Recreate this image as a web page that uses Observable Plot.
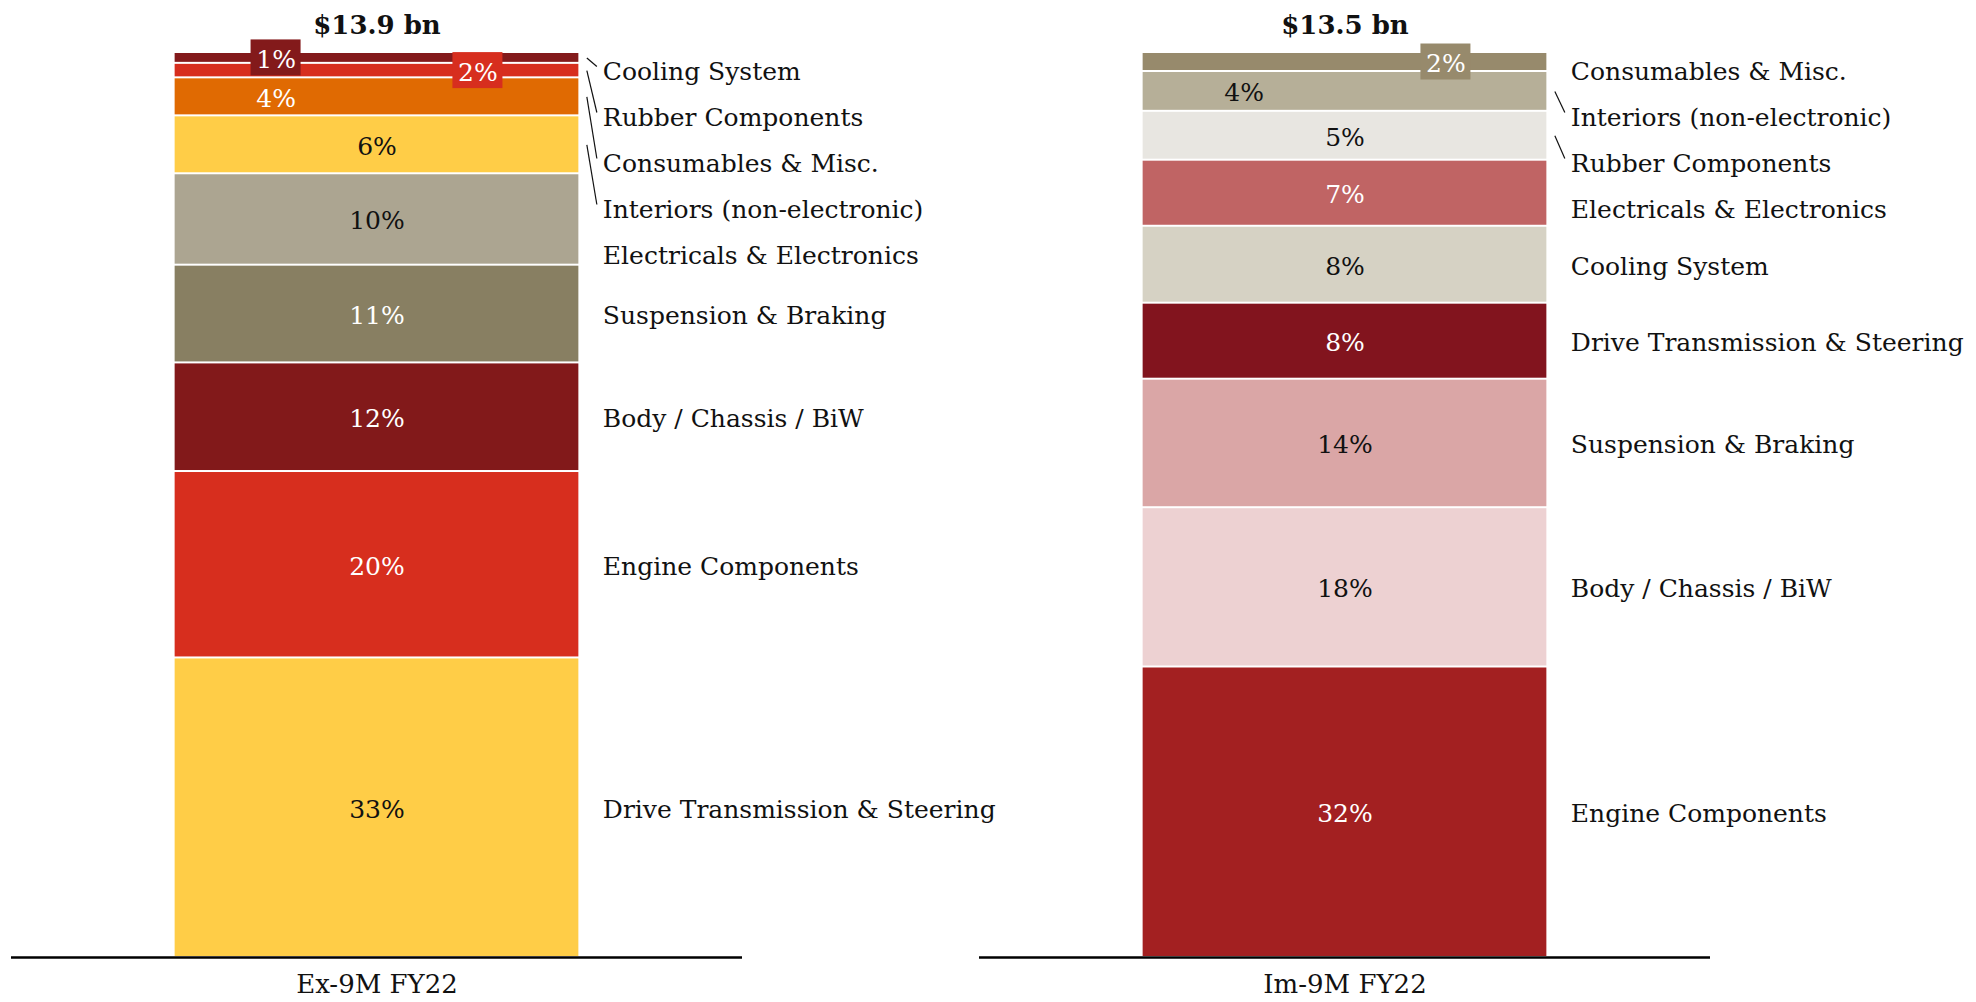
<!DOCTYPE html>
<html>
<head>
<meta charset="utf-8">
<script src="https://cdn.jsdelivr.net/npm/d3@7"></script>
<script src="https://cdn.jsdelivr.net/npm/@observablehq/plot@0.6"></script>
<style>
  html, body { margin: 0; padding: 0; background: #ffffff; }
  #chart svg { display: block; }
</style>
</head>
<body>
<div id="chart"></div>
<script>
// ---------- DATA (segments listed top to bottom) ----------
const panels = ["Ex-9M FY22", "Im-9M FY22"];
const totals = [13.9, 13.5]; // US$ bn

const exCategories = ["Cooling System", "Rubber Components", "Consumables & Misc.", "Interiors (non-electronic)",
  "Electricals & Electronics", "Suspension & Braking", "Body / Chassis / BiW", "Engine Components",
  "Drive Transmission & Steering"];
const exShares = [1.2, 1.6, 4.2, 6.4, 10.1, 10.8, 12.0, 20.6, 33.1];
const exLabels = ["1%", "2%", "4%", "6%", "10%", "11%", "12%", "20%", "33%"];

const imCategories = ["Consumables & Misc.", "Interiors (non-electronic)", "Rubber Components",
  "Electricals & Electronics", "Cooling System", "Drive Transmission & Steering", "Suspension & Braking",
  "Body / Chassis / BiW", "Engine Components"];
const imShares = [2.1, 4.4, 5.4, 7.3, 8.5, 8.4, 14.2, 17.6, 32.1];
const imLabels = ["2%", "4%", "5%", "7%", "8%", "8%", "14%", "18%", "32%"];

// ---------- STYLE ----------
const exColors = ["#831a1b", "#d72e1e", "#e06a02", "#ffcd47", "#aca591", "#887f62", "#82191a", "#d72e1e", "#ffcd47"];
const imColors = ["#978a6c", "#b6af98", "#e8e6e1", "#c06464", "#d6d2c4", "#82141e", "#daa6a6", "#edd1d2", "#a32021"];

const W = 1976, H = 1002;
const marginTop = 52, marginBottom = 45, marginLeft = 11, marginRight = 265;
const facetW = 731.5, barW = 404;           // px
const ext = (facetW - barW) / 2 / barW;     // x-domain padding (bar spans 0..1)
const FONT = "DejaVu Serif, Georgia, serif";
const yPx = d3.scaleLinear([0, 100], [H - marginBottom, marginTop]); // mirrors Plot's y scale

// ---------- BUILD ROWS ----------
function build(panel, cats, shares, labels, colors) {
  const n = cats.length;
  const rows = cats.map((c, i) => ({panel, category: c, value: shares[i], label: labels[i], color: colors[i]}));
  // stack bottom-up
  let cum = 0;
  for (let i = n - 1; i >= 0; --i) {
    rows[i].y1 = cum; rows[i].y2 = cum + rows[i].value; cum = rows[i].y2;
    rows[i].yc = (rows[i].y1 + rows[i].y2) / 2;
  }
  // small segments alternate between quarter positions, from the bottom up
  let k = 0;
  for (let i = n - 1; i >= 0; --i) {
    const r = rows[i];
    if (r.value < 5) { r.lx = (k % 2 === 0) ? 0.25 : 0.75; k++; } else r.lx = 0.5;
    r.boxed = r.value < 3;
    r.textColor = d3.lab(r.color).l < 62 ? "#ffffff" : "#111111";
  }
  // dodge category labels (top to bottom) in pixel space
  const gap = 46, minTop = marginTop + 17;
  let prev = -Infinity;
  rows.forEach((r, i) => {
    const c = yPx(r.yc);
    let p = Math.max(c, i === 0 ? minTop : prev + gap);
    prev = p;
    r.labelY = yPx.invert(p);
    const disp = p - c, half = (yPx(r.y1) - yPx(r.y2)) / 2;
    r.leader = disp > 10 && disp > 0.8 * half;
    r.leaderEnd = yPx.invert(p - 3);
  });
  return rows;
}

const rows = [
  ...build(panels[0], exCategories, exShares, exLabels, exColors),
  ...build(panels[1], imCategories, imShares, imLabels, imColors)
];
const titles = panels.map((p, i) => ({panel: p, text: `$${totals[i]} bn`}));

const chart = Plot.plot({
  width: W, height: H,
  marginTop, marginBottom, marginLeft, marginRight,
  style: {fontFamily: FONT, background: "#ffffff", color: "#111"},
  fx: {domain: panels, paddingInner: 237 / 968.5, paddingOuter: 0, axis: null},
  x: {domain: [-ext, 1 + ext], axis: null},
  y: {domain: [0, 100], axis: null},
  marks: [
    Plot.rect(rows, {fx: "panel", x1: 0, x2: 1, y1: "y1", y2: "y2", fill: "color", insetTop: 1, insetBottom: 1}),
    Plot.ruleY([0], {stroke: "#000", strokeWidth: 2.5}),
    Plot.rect(rows.filter(d => d.boxed), {fx: "panel", x1: "lx", x2: "lx", y1: "yc", y2: "yc", fill: "color",
      insetLeft: -25, insetRight: -25, insetTop: -18, insetBottom: -18}),
    Plot.text(rows, {fx: "panel", x: "lx", y: "yc", dy: 2, text: "label", fill: "textColor", fontSize: 25, fontFamily: FONT}),
    Plot.text(rows, {fx: "panel", x: 1 + 24 / barW, y: "labelY", dy: 2, text: "category", textAnchor: "start",
      fill: "#111", fontSize: 25, fontFamily: FONT}),
    Plot.link(rows.filter(d => d.leader), {fx: "panel", x1: 1 + 8 / barW, y1: "yc", x2: 1 + 18 / barW, y2: "leaderEnd",
      stroke: "#111", strokeWidth: 1.2}),
    Plot.text(titles, {fx: "panel", x: 0.5, y: 100, dy: -27, text: "text", fontWeight: "bold", fontSize: 26,
      fill: "#111", fontFamily: FONT}),
    Plot.axisFx({anchor: "bottom", tickSize: 0, tickPadding: 17, label: null, fontSize: 26, fontFamily: FONT, color: "#111"})
  ]
});
document.getElementById("chart").appendChild(chart);
</script>
</body>
</html>
